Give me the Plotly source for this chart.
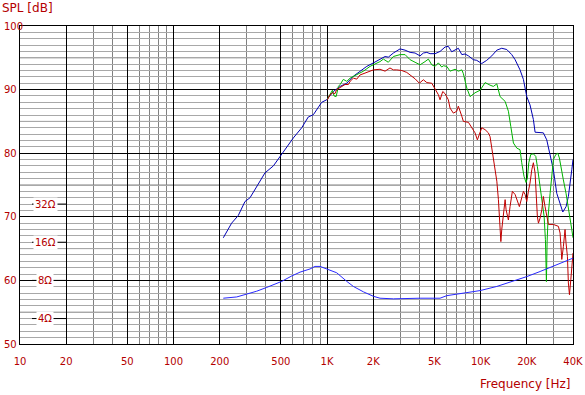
import plotly.graph_objects as go

# ---------------- data ----------------
spl_freq = [211, 239, 264, 292, 315, 348, 394, 447, 507, 603, 684, 755, 814, 923, 995,
            1099, 1216, 1344, 1484, 1640, 1814, 2005, 2213, 2387, 2507, 2704, 2989, 3223,
            3475, 3743, 4035, 4240, 4467, 4690, 5055, 5445, 5875, 6166, 6487, 6823, 7164,
            7550, 7925, 8337, 8974, 9441, 10180, 10965, 11830, 12760, 13740, 14820, 15960,
            16790, 18070, 19010, 20000, 20990, 22080, 22650, 23820, 25650, 26980, 27670,
            28380, 29800, 31350, 32950, 34330, 36060, 37330, 39290, 40000]
spl_db = [66.7, 69.0, 70.2, 72.4, 73.0, 74.7, 76.9, 78.0, 79.8, 82.4, 84.0, 85.7, 86.05, 88.0, 88.4,
          89.7, 90.5, 91.0, 92.1, 92.9, 93.65, 94.2, 94.8, 95.2, 95.1, 95.75, 96.4, 96.2,
          95.85, 95.75, 95.3, 95.75, 95.85, 95.65, 95.65, 96.0, 96.7, 96.8, 95.95, 96.2, 96.5,
          95.5, 95.6, 95.3, 94.7, 94.6, 94.1, 94.6, 95.3, 96.2, 96.5, 96.3, 95.5,
          94.7, 93.1, 91.6, 88.9, 87.6, 85.3, 83.3, 83.3, 83.2, 82.1, 80.8,
          79.5, 77.4, 73.7, 71.9, 70.75, 71.6, 73.2, 77.4, 79.0]

green_freq = [1005, 1047, 1084, 1111, 1146, 1186, 1216, 1277, 1344, 1413, 1561, 1726, 1905,
              2213, 2328, 2507, 2704, 2989, 3223, 3475, 3743, 4035, 4347, 4571, 4810, 5055,
              5310, 5585, 5725, 6025, 6324, 6823, 7164, 7550, 7727, 8128, 8547, 9204, 9931,
              10700, 11530, 12110, 12760, 13400, 14450, 15180, 15740, 16370, 17220, 18070,
              18540, 19190, 19780, 20180, 20610, 21230, 22080, 22890, 23440, 24160, 25050,
              25940, 26450, 26850, 27120, 27540, 28380, 29110, 29810, 30900, 31840, 32610,
              33470, 34620, 36030, 37310, 38280, 39280, 40000]
green_db = [88.5, 89.4, 89.9, 89.0, 88.9, 90.5, 90.8, 91.6, 91.3, 91.8, 92.3, 92.9, 93.65,
            94.4, 94.8, 94.3, 95.2, 95.5, 95.5, 94.7, 94.3, 93.9, 94.4, 94.8, 93.9, 93.65,
            94.2, 93.55, 93.75, 93.65, 92.9, 93.2, 92.9, 93.1, 92.5, 90.25, 88.9, 89.5, 89.9,
            91.1, 90.7, 90.5, 90.9, 88.9, 88.15, 86.6, 84.2, 81.6, 80.8, 80.55,
            78.5, 76.35, 75.4, 76.1, 78.5, 79.8, 79.9, 79.5, 77.9, 75.3, 72.2,
            70.05, 66.4, 59.8, 65.9, 70.05, 73.7, 76.9, 79.0, 79.8, 80.0, 79.25,
            77.4, 75.8, 73.7, 71.6, 69.5, 68.0, 66.7]

red_freq = [1005, 1047, 1088, 1125, 1156, 1203, 1247, 1310, 1377, 1413, 1484, 1561, 1640,
            1768, 1858, 2005, 2213, 2387, 2570, 2704, 2846, 2989, 3070, 3306, 3475, 3743,
            3993, 4240, 4467, 4810, 5055, 5310, 5445, 5670, 5875, 6166, 6324, 6650, 7000,
            7164, 7550, 7727, 8337, 8770, 9204, 9530, 9820, 10180, 10700, 11240, 11530,
            11830, 12420, 12760, 13070, 13280, 13560, 13740, 14090, 14450, 14660, 15180,
            15560, 16110, 16790, 17220, 17900, 18540, 19010, 19500, 20000, 20480, 20990,
            21560, 22080, 22650, 23000, 23440, 23820, 24420, 25050, 25650, 26300, 26980,
            27670, 29810, 32130, 32950, 33810, 34620, 35160, 35500, 36030, 36790, 37330,
            37930, 38700, 39290, 39890, 40000]
red_db = [88.4, 89.2, 89.5, 89.35, 90.0, 90.25, 90.5, 90.8, 90.8, 91.3, 91.8, 91.65, 92.3,
          92.6, 92.9, 93.1, 93.2, 92.9, 93.4, 93.1, 93.1, 93.0, 93.0, 92.7, 92.3, 91.7,
          91.0, 91.55, 91.1, 91.0, 90.1, 89.2, 88.4, 89.7, 89.35, 88.4, 87.1, 86.3, 86.6,
          87.4, 85.8, 85.0, 84.85, 84.0, 83.2, 82.1, 82.9, 84.0, 83.7, 83.2, 82.6,
          80.8, 77.9, 75.6, 72.7, 70.05, 66.1, 68.0, 70.05, 72.7, 71.1, 69.5,
          71.6, 74.0, 73.5, 72.7, 71.6, 73.0, 74.0, 73.5, 72.4, 74.0, 75.3,
          77.4, 78.5, 76.9, 73.2, 70.05, 69.0, 69.8, 71.1, 73.2, 71.6, 69.8,
          68.8, 68.8, 68.5, 67.45, 63.3, 65.3, 66.9, 68.0, 65.9, 63.8, 59.6,
          57.75, 60.1, 62.7, 63.8, 64.3]

imp_freq = [211, 233, 258, 300, 348, 405, 507, 589, 667, 775, 835, 900, 995, 1156, 1344,
            1484, 1726, 2005, 2213, 2704, 4035, 5445, 6025, 7727, 9931, 12760, 16370,
            20000, 24420, 29810, 36420, 40000]
imp_db = [57.2, 57.3, 57.4, 57.85, 58.3, 58.9, 59.85, 60.7, 61.3, 61.8, 62.2, 62.2, 61.8, 61.2, 59.85,
          59.05, 58.2, 57.5, 57.2, 57.1, 57.2, 57.2, 57.6, 58.0, 58.4, 59.05, 59.85,
          60.6, 61.4, 62.2, 63.1, 63.5]

x_tickvals = [10, 20, 50, 100, 200, 500, 1000, 2000, 5000, 10000, 20000, 40000]
x_ticktext = ["10", "20", "50", "100", "200", "500", "1K", "2K", "5K", "10K", "20K", "40K"]
y_tickvals = [50, 60, 70, 80, 90, 100]
y_ticktext = ["50", "60", "70", "80", "90", "100"]
imp_labels = ["32Ω", "16Ω", "8Ω", "4Ω"]
imp_label_db = [72, 66, 60, 54]
half_lines = [55, 65, 75, 85, 95]

# ---------------- styling ----------------
RED_TXT = "#B40000"
FONT = "DejaVu Sans"

x_minor = []
for dec in [10, 100, 1000, 10000]:
    for m in range(1, 10):
        v = dec * m
        if v not in x_tickvals and v < 40000:
            x_minor.append(v)

fig = go.Figure()
fig.add_trace(go.Scatter(x=spl_freq, y=spl_db, mode="lines",
                         line=dict(color="#0000B4", width=1), hoverinfo="skip"))
fig.add_trace(go.Scatter(x=green_freq, y=green_db, mode="lines",
                         line=dict(color="#00B400", width=1), hoverinfo="skip"))
fig.add_trace(go.Scatter(x=red_freq, y=red_db, mode="lines",
                         line=dict(color="#C00000", width=1), hoverinfo="skip"))
fig.add_trace(go.Scatter(x=imp_freq, y=imp_db, mode="lines",
                         line=dict(color="#2828FF", width=1), hoverinfo="skip"))

shapes = []
for v in half_lines:
    shapes.append(dict(type="line", xref="paper", x0=0, x1=1, yref="y", y0=v, y1=v,
                       line=dict(color="#808080", width=1), layer="between"))
for v in imp_label_db:
    shapes.append(dict(type="line", xref="paper", x0=0.0217, x1=0.085, yref="y", y0=v, y1=v,
                       line=dict(color="black", width=1), layer="above"))

annotations = []
for v, t in zip(y_tickvals, y_ticktext):
    annotations.append(dict(x=-0.0325, xref="paper", xanchor="left", y=v, yref="y",
                            yanchor="middle", text=t, showarrow=False,
                            font=dict(family=FONT, size=10, color=RED_TXT)))
for v, t in zip(imp_label_db, imp_labels):
    annotations.append(dict(x=0.046, xref="paper", xanchor="center", y=v, yref="y",
                            yanchor="middle", text=t, showarrow=False, bgcolor="white",
                            borderpad=1,
                            font=dict(family=FONT, size=10, color=RED_TXT)))
annotations.append(dict(x=-0.0362, xref="paper", xanchor="left", y=1.0575, yref="paper",
                        yanchor="middle", text="SPL [dB]", showarrow=False,
                        font=dict(family=FONT, size=12, color=RED_TXT)))
annotations.append(dict(x=1.0, xref="paper", xanchor="right", y=-0.1248, yref="paper",
                        yanchor="middle", text="Frequency [Hz]", showarrow=False,
                        font=dict(family=FONT, size=12, color=RED_TXT)))

fig.update_layout(
    width=585, height=395,
    margin=dict(l=20, r=12, t=26, b=51, pad=0, autoexpand=False),
    paper_bgcolor="white", plot_bgcolor="white",
    showlegend=False,
    shapes=shapes, annotations=annotations,
    xaxis=dict(type="log", range=[1, 4.60206], tickvals=x_tickvals, ticktext=x_ticktext,
               automargin=False,
               showgrid=True, gridcolor="black", gridwidth=1,
               minor=dict(tickvals=x_minor, showgrid=True, gridcolor="#808080", gridwidth=1, ticks=""),
               showline=True, linecolor="black", linewidth=1, mirror=True,
               ticks="", zeroline=False, ticklabelstandoff=8,
               tickfont=dict(family=FONT, size=10, color=RED_TXT)),
    yaxis=dict(range=[50, 100], dtick=10, tick0=50, automargin=False,
               showgrid=True, gridcolor="black", gridwidth=1,
               minor=dict(dtick=1, showgrid=True, gridcolor="#A8A8A8", gridwidth=1, ticks=""),
               showline=True, linecolor="black", linewidth=1, mirror=True,
               ticks="", zeroline=False, showticklabels=False),
)

fig.write_html("out.html", config={"displayModeBar": False, "responsive": False},
               post_script="document.body.style.margin='0';document.body.style.overflow='hidden';")
